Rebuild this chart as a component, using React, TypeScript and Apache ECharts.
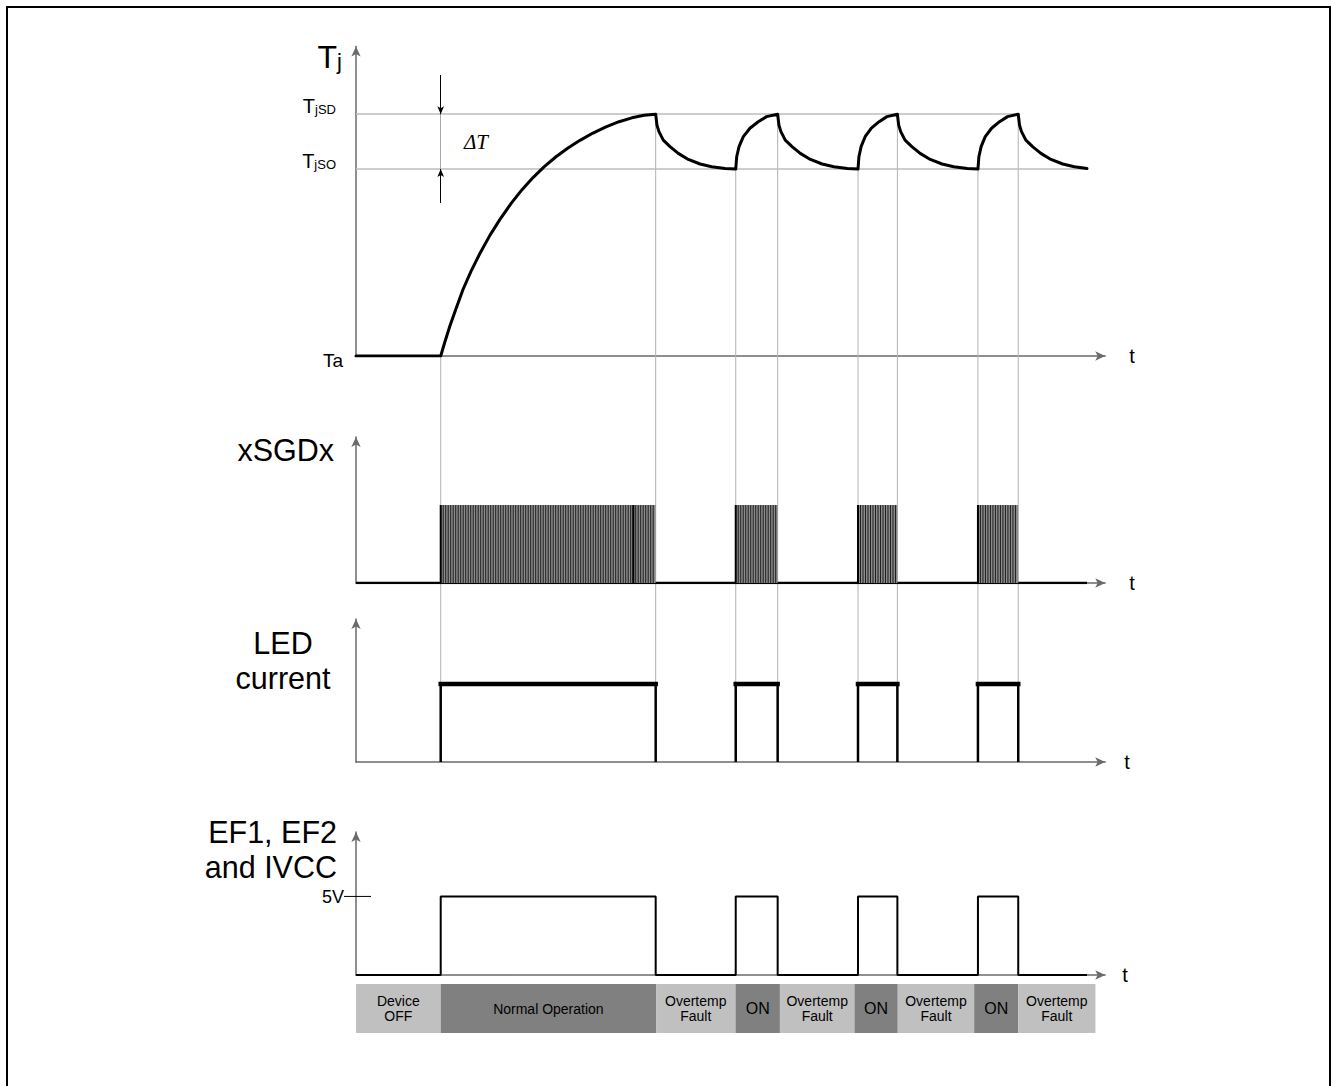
import React, { useEffect, useRef } from "react";
import * as echarts from "echarts";

const SANS = "'Liberation Sans', Arial, Helvetica, sans-serif";
const SERIF = "'Liberation Serif', 'Times New Roman', serif";

// ---------- time axis (arbitrary units) ----------
const timeAxisMax = 99.5;

// ---------- junction temperature (0 = Ta, 100 = TjSD) ----------
const tjAmbient = 0;
const tjShutdown = 100;
const tjRestart = 77.3;
const tjAxisMax = 128;

const deviceOnTime = 11.25;
const shutdownTimes = [39.8, 56.0, 71.9, 87.95];
const restartTimes = [50.43, 66.67, 82.6];
const endTime = 97.08;
const endTj = 77.5;

// first heating curve: [t, Tj]
const firstHeatingCurve: [number, number][] = [
  [11.25, 0], [11.82, 6.0], [12.48, 12.5], [13.28, 19.5], [14.21, 27.5],
  [15.27, 35.0], [16.47, 42.5], [17.8, 50.0], [19.12, 56.5], [20.58, 63.0],
  [22.05, 68.8], [23.51, 73.8], [24.97, 78.2], [26.56, 82.4], [28.15, 86.0],
  [29.75, 89.2], [31.47, 92.2], [33.2, 94.8], [34.93, 96.9], [36.65, 98.5],
  [38.25, 99.6], [39.8, 100],
];
// cooling curve: [fraction of off time, Tj]
const coolingShape: [number, number][] = [
  [0, 100], [0.016, 95.5], [0.041, 92.8], [0.095, 89.3], [0.179, 86.6],
  [0.282, 83.8], [0.408, 81.3], [0.554, 79.4], [0.7, 78.3], [0.866, 77.5], [1, 77.3],
];
const nominalCoolingTime = 10.66;
// reheating curve: [fraction of on time, Tj]
const reheatShape: [number, number][] = [
  [0, 77.3], [0.023, 82.4], [0.079, 86.6], [0.181, 90.7], [0.339, 94.2],
  [0.536, 96.9], [0.735, 99.0], [1, 100],
];

// ΔT annotation
const deltaArrowTop = 116.2;
const deltaArrowBottom = 63.3;
const deltaLabelPos = [15.94, 88.5];

// ---------- xSGDx ----------
const sgdAxisMax = 10;
const pwmLevel = 5.34;
const pwmPeriod = 0.332;
const pwmDarkStripes = [36.83];

// ---------- LED current ----------
const ledAxisMax = 10;
const ledLevel = 5.45;

// ---------- EF1, EF2, IVCC ----------
const efAxisMax = 9.1;
const efHigh = 5;

// ---------- phase bar ----------
const phaseLabels = [
  "Device\nOFF", "Normal Operation", "Overtemp\nFault", "ON", "Overtemp\nFault",
  "ON", "Overtemp\nFault", "ON", "Overtemp\nFault",
];
const phaseEdges = [0, 11.25, 39.85, 50.4, 56.3, 66.2, 71.95, 82.1, 87.95, 98.2];
const phaseIsDark = [0, 1, 0, 1, 0, 1, 0, 1, 0];

// ---------- derived tables ----------
function buildTjCurve(): [number, number][] {
  const pts: [number, number][] = [[0, tjAmbient], ...firstHeatingCurve];
  shutdownTimes.forEach((s, i) => {
    const r = restartTimes[i];
    const isLast = r === undefined;
    const dur = isLast ? nominalCoolingTime : r - s;
    for (let k = 1; k < coolingShape.length; k++) {
      const [u, v] = coolingShape[k];
      const t = s + u * dur;
      if (isLast && t >= endTime) break;
      pts.push([t, v]);
    }
    if (isLast) {
      pts.push([endTime, endTj]);
      return;
    }
    const next = shutdownTimes[i + 1];
    for (let k = 1; k < reheatShape.length; k++) {
      const [u, v] = reheatShape[k];
      pts.push([r + u * (next - r), v]);
    }
  });
  return pts;
}

const onIntervals: [number, number][] = [
  [deviceOnTime, shutdownTimes[0]],
  ...restartTimes.map((r, i) => [r, shutdownTimes[i + 1]] as [number, number]),
];

function buildEf(): [number, number][] {
  const d: [number, number][] = [[0, 0]];
  onIntervals.forEach(([s, e]) => {
    d.push([s, 0], [s, efHigh], [e, efHigh], [e, 0]);
  });
  d.push([endTime, 0]);
  return d;
}

const AXIS_COLOR = "#6a6a6a";
const GRID_LEFT = 356;
const GRID_WIDTH = 749.2;

function timeAxis(gridIndex: number, nameGap: number, show = true) {
  return {
    type: "value",
    gridIndex,
    min: 0,
    max: timeAxisMax,
    show,
    axisLine: {
      show: true,
      symbol: ["none", "arrow"],
      symbolSize: [7, 10],
      lineStyle: { color: AXIS_COLOR, width: 1.5 },
    },
    axisTick: { show: false },
    axisLabel: { show: false },
    splitLine: { show: false },
    name: "t",
    nameLocation: "end",
    nameGap,
    nameTextStyle: { fontSize: 20, color: "#000", fontFamily: SANS, align: "left", verticalAlign: "middle" },
  };
}

function levelAxis(gridIndex: number, max: number, name: string, nameGap: number, nameStyle: any) {
  return {
    type: "value",
    gridIndex,
    min: 0,
    max,
    axisLine: {
      show: true,
      symbol: ["none", "arrow"],
      symbolSize: [7, 10],
      lineStyle: { color: AXIS_COLOR, width: 1.5 },
    },
    axisTick: { show: false },
    axisLabel: { show: false },
    splitLine: { show: false },
    name,
    nameLocation: "end",
    nameGap,
    nameTextStyle: { color: "#000", fontFamily: SANS, verticalAlign: "top", ...nameStyle },
  };
}

function buildOption(): any {
  const tjCurve = buildTjCurve();
  const subLabel = (main: string, sub: string) => ({
    show: true,
    position: "start",
    distance: 20,
    color: "#000",
    formatter: `{a|${main}}{b|${sub}}`,
    padding: [0, 0, 18, 0],
    rich: {
      a: { fontSize: 20, fontFamily: SANS, color: "#000", lineHeight: 22, verticalAlign: "bottom" },
      b: { fontSize: 13, fontFamily: SANS, color: "#000", lineHeight: 5, verticalAlign: "bottom" },
    },
  });
  const grayRef = { color: "#bdbdbd", width: 1.5, type: "solid" };

  return {
    animation: false,
    textStyle: { fontFamily: SANS },
    grid: [
      { left: GRID_LEFT, width: GRID_WIDTH, top: 46.5, height: 309.5 },
      { left: GRID_LEFT, width: GRID_WIDTH, top: 437, height: 146 },
      { left: GRID_LEFT, width: GRID_WIDTH, top: 619, height: 143 },
      { left: GRID_LEFT, width: GRID_WIDTH, top: 832, height: 143 },
      { left: GRID_LEFT, width: GRID_WIDTH, top: 984, height: 49 },
    ],
    xAxis: [
      timeAxis(0, 24),
      timeAxis(1, 24),
      timeAxis(2, 19),
      timeAxis(3, 17),
      { ...timeAxis(4, 0, false) },
    ],
    yAxis: [
      {
        type: "value",
        gridIndex: 0,
        min: 0,
        max: tjAxisMax,
        interval: tjAxisMax,
        axisLine: {
          show: true,
          symbol: ["none", "arrow"],
          symbolSize: [7, 10],
          lineStyle: { color: AXIS_COLOR, width: 1.5 },
        },
        axisTick: { show: false },
        splitLine: { show: false },
        axisLabel: {
          show: true,
          margin: 13,
          color: "#000",
          formatter: (v: number) => (v === tjAmbient ? "{t|Ta}" : ""),
          rich: {
            t: { fontSize: 19, fontFamily: SANS, color: "#000", padding: [8, 0, 0, 0] },
          },
        },
        name: "{a|T}{b|j}",
        nameLocation: "end",
        nameGap: 10,
        nameTextStyle: {
          align: "right",
          verticalAlign: "top",
          padding: [0, 14, 0, 0],
          rich: {
            a: { fontSize: 32, fontFamily: SANS, color: "#000", lineHeight: 36, verticalAlign: "bottom" },
            b: { fontSize: 22, fontFamily: SANS, color: "#000", lineHeight: 20, verticalAlign: "bottom" },
          },
        },
      },
      levelAxis(1, sgdAxisMax, "xSGDx", 4, { fontSize: 30.5, lineHeight: 34, align: "right", padding: [0, 22, 0, 0] }),
      levelAxis(2, ledAxisMax, "LED\ncurrent", -6, { fontSize: 30.5, lineHeight: 35, align: "center", padding: [0, 146, 0, 0] }),
      levelAxis(3, efAxisMax, "EF1, EF2\nand IVCC", 17.5, { fontSize: 30.5, lineHeight: 35, align: "right", padding: [0, 19, 0, 0] }),
      { type: "value", gridIndex: 4, min: 0, max: 1, show: false },
    ],
    series: [
      {
        name: "Tj",
        type: "line",
        xAxisIndex: 0,
        yAxisIndex: 0,
        data: tjCurve,
        symbol: "none",
        z: 5,
        lineStyle: { color: "#000", width: 3, join: "round", cap: "round" },
        markLine: {
          silent: true,
          symbol: "none",
          animation: false,
          data: [
            [
              { coord: [0, tjShutdown], lineStyle: grayRef, label: subLabel("T", "jSD") },
              { coord: [shutdownTimes[shutdownTimes.length - 1], tjShutdown] },
            ],
            [
              { coord: [0, tjRestart], lineStyle: grayRef, label: subLabel("T", "jSO") },
              { coord: [endTime, tjRestart] },
            ],
            [
              { coord: [deviceOnTime, tjRestart], lineStyle: { color: "#a8a8a8", width: 1, type: "solid" }, label: { show: false } },
              { coord: [deviceOnTime, tjShutdown] },
            ],
            [
              { coord: [deviceOnTime, deltaArrowTop], symbol: "none", lineStyle: { color: "#000", width: 1, type: "solid" }, label: { show: false } },
              { coord: [deviceOnTime, tjShutdown], symbol: "arrow", symbolSize: [5, 8] },
            ],
            [
              { coord: [deviceOnTime, deltaArrowBottom], symbol: "none", lineStyle: { color: "#000", width: 1, type: "solid" }, label: { show: false } },
              { coord: [deviceOnTime, tjRestart], symbol: "arrow", symbolSize: [5, 8] },
            ],
          ],
        },
        markPoint: {
          silent: true,
          symbol: "circle",
          symbolSize: 1,
          itemStyle: { color: "rgba(0,0,0,0)" },
          label: {
            show: true,
            position: "inside",
            formatter: "ΔT",
            fontSize: 21,
            fontStyle: "italic",
            fontFamily: SERIF,
            color: "#000",
          },
          data: [{ coord: deltaLabelPos }],
        },
      },
      {
        name: "xSGDx low",
        type: "line",
        xAxisIndex: 1,
        yAxisIndex: 1,
        data: [[0, 0], [endTime, 0]],
        symbol: "none",
        lineStyle: { color: "#000", width: 2.5 },
      },
      {
        name: "xSGDx PWM",
        type: "custom",
        xAxisIndex: 1,
        yAxisIndex: 1,
        data: onIntervals,
        encode: { x: [0, 1] },
        z: 4,
        renderItem: (params: any, api: any) => {
          const s = api.value(0);
          const e = api.value(1);
          const p0 = api.coord([s, 0]);
          const p1 = api.coord([e, pwmLevel]);
          const step = api.size([pwmPeriod, 0])[0];
          const children: any[] = [
            {
              type: "rect",
              shape: { x: p0[0], y: p1[1], width: p1[0] - p0[0], height: p0[1] - p1[1] },
              style: { fill: "#8c8c8c" },
            },
          ];
          for (let x = p0[0] + step; x < p1[0] - 0.3; x += step) {
            children.push({
              type: "line",
              shape: { x1: x, y1: p1[1], x2: x, y2: p0[1] },
              style: { stroke: "#1e1e1e", lineWidth: 1 },
            });
          }
          pwmDarkStripes.forEach((t) => {
            if (t > s && t < e) {
              const x = api.coord([t, 0])[0];
              children.push({
                type: "line",
                shape: { x1: x, y1: p1[1], x2: x, y2: p0[1] },
                style: { stroke: "#000", lineWidth: 2 },
              });
            }
          });
          children.push({
            type: "line",
            shape: { x1: p0[0], y1: p1[1], x2: p0[0], y2: p0[1] },
            style: { stroke: "#000", lineWidth: 2 },
          });
          return { type: "group", children };
        },
      },
      {
        name: "LED current",
        type: "custom",
        xAxisIndex: 2,
        yAxisIndex: 2,
        data: onIntervals,
        encode: { x: [0, 1] },
        z: 4,
        renderItem: (params: any, api: any) => {
          const p0 = api.coord([api.value(0), 0]);
          const p1 = api.coord([api.value(1), ledLevel]);
          return {
            type: "group",
            children: [
              {
                type: "polyline",
                shape: { points: [[p0[0], p0[1]], [p0[0], p1[1]], [p1[0], p1[1]], [p1[0], p0[1]]] },
                style: { stroke: "#000", lineWidth: 2.5, fill: "none" },
              },
              {
                type: "line",
                shape: { x1: p0[0], y1: p1[1], x2: p1[0], y2: p1[1] },
                style: { stroke: "#000", lineWidth: 4.5, lineCap: "square" },
              },
            ],
          };
        },
      },
      {
        name: "EF1, EF2 and IVCC",
        type: "line",
        xAxisIndex: 3,
        yAxisIndex: 3,
        data: buildEf(),
        symbol: "none",
        lineStyle: { color: "#000", width: 2 },
      },
      {
        name: "5V level",
        type: "custom",
        xAxisIndex: 3,
        yAxisIndex: 3,
        data: [[0, efHigh]],
        renderItem: (params: any, api: any) => {
          const p = api.coord([api.value(0), api.value(1)]);
          return {
            type: "group",
            children: [
              {
                type: "line",
                shape: { x1: p[0] - 12, y1: p[1], x2: p[0] + 15, y2: p[1] },
                style: { stroke: "#000", lineWidth: 1 },
              },
              {
                type: "text",
                style: {
                  text: efHigh + "V",
                  x: p[0] - 12,
                  y: p[1] + 1,
                  align: "right",
                  verticalAlign: "middle",
                  fontSize: 18,
                  fontFamily: SANS,
                  fill: "#000",
                },
              },
            ],
          };
        },
      },
      {
        name: "phases",
        type: "custom",
        xAxisIndex: 4,
        yAxisIndex: 4,
        data: phaseLabels.map((_, i) => [phaseEdges[i], phaseEdges[i + 1], phaseIsDark[i]]),
        encode: { x: [0, 1] },
        renderItem: (params: any, api: any) => {
          const a = api.coord([api.value(0), 1]);
          const b = api.coord([api.value(1), 0]);
          const label = phaseLabels[params.dataIndex];
          const big = label.length <= 2;
          return {
            type: "group",
            children: [
              {
                type: "rect",
                shape: { x: a[0], y: a[1], width: b[0] - a[0], height: b[1] - a[1] },
                style: { fill: api.value(2) === 1 ? "#808080" : "#c0c0c0" },
              },
              {
                type: "text",
                style: {
                  text: label,
                  x: (a[0] + b[0]) / 2,
                  y: (a[1] + b[1]) / 2,
                  align: "center",
                  verticalAlign: "middle",
                  fontSize: big ? 16 : 14,
                  lineHeight: 15.5,
                  fontFamily: SANS,
                  fill: "#000",
                },
              },
            ],
          };
        },
      },
    ],
  };
}

// guide lines: from the Tj curve down to the LED current axis
const guideMarks = [
  { t: deviceOnTime, level: tjAmbient },
  ...shutdownTimes.map((t) => ({ t, level: tjShutdown })),
  ...restartTimes.map((t) => ({ t, level: tjRestart })),
];

export default function App() {
  const ref = useRef<HTMLDivElement>(null);
  useEffect(() => {
    if (!ref.current) return;
    const chart = echarts.init(ref.current, null, { renderer: "svg" });
    chart.setOption(buildOption());
    const elements = guideMarks.map((g) => {
      const top = chart.convertToPixel({ gridIndex: 0 } as any, [g.t, g.level]) as number[];
      const bot = chart.convertToPixel({ gridIndex: 2 } as any, [g.t, 0]) as number[];
      return {
        type: "line",
        silent: true,
        z: 1,
        shape: { x1: top[0], y1: top[1], x2: bot[0], y2: bot[1] },
        style: { stroke: "#b2b2b2", lineWidth: 1 },
      };
    });
    chart.setOption({ graphic: { elements } });
    return () => chart.dispose();
  }, []);
  return (
    <div style={{ position: "fixed", left: 0, top: 0, width: 1332, height: 1086, overflow: "hidden", background: "#fff" }}>
      <div
        style={{
          position: "absolute",
          left: 6,
          top: 6,
          width: 1321,
          height: 1200,
          border: "2px solid #000",
        }}
      />
      <div ref={ref} style={{ position: "absolute", left: 0, top: 0, width: 1332, height: 1086 }} />
    </div>
  );
}
